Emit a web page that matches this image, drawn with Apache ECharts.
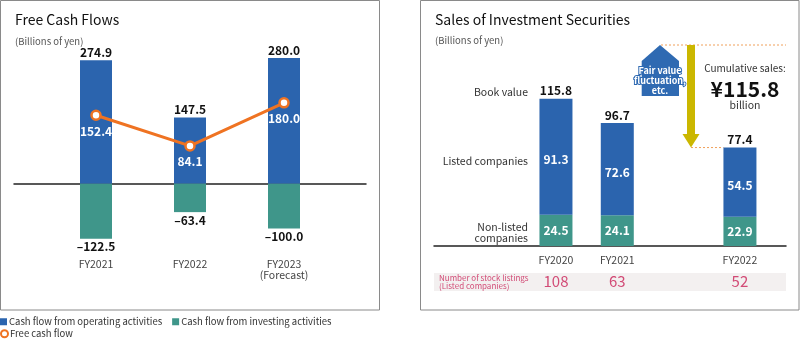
<!DOCTYPE html>
<html><head><meta charset="utf-8">
<script src="https://cdn.jsdelivr.net/npm/echarts@6/dist/echarts.min.js"></script>
<style>html,body{margin:0;padding:0;background:#fff}#c{width:800px;height:339px}</style>
</head><body><div id="c"></div>
<script>
// ---- Left chart data ----
const fcfCategories = ['FY2021', 'FY2022', 'FY2023\n(Forecast)'];
const operatingCF = [274.9, 147.5, 280.0];
const investingCF = [-122.5, -63.4, -100.0];
const freeCF = [152.4, 84.1, 180.0];
// ---- Right chart data ----
const secCategories = ['FY2020', 'FY2021', '', 'FY2022'];
const listedCos = [91.3, 72.6, null, 54.5];
const nonListedCos = [24.5, 24.1, null, 22.9];
const bookValue = [115.8, 96.7, null, 77.4];
const stockListings = [108, 63, null, 52];
const cumulativeSales = 115.8;

const FONT = 'Noto Sans CJK JP';
const BLUE = '#2b64ae', TEAL = '#3f968a', ORANGE = '#ef7322', PINK = '#d24b76';

const chart = echarts.init(document.getElementById('c'), null, {renderer: 'canvas'});
const fmtNeg = v => '\u2013' + Math.abs(v).toFixed(1);

const hiddenVal = (min, max, grid) => ({type: 'value', gridIndex: grid, min: min, max: max, show: false});

chart.setOption({
  animation: false,
  textStyle: {fontFamily: FONT},
  grid: [
    {left: 49, width: 282, top: 49, height: 202},
    {left: 14, width: 352, top: 49, height: 202},
    {left: 525.3, width: 245.3, top: 55.2, height: 190.8},
    {left: 434, width: 352, top: 55.2, height: 190.8}
  ],
  xAxis: [
    {type: 'category', gridIndex: 0, data: fcfCategories, axisLine: {show: false}, axisTick: {show: false},
     axisLabel: {color: '#444', fontSize: 10.5, margin: 8, lineHeight: 11, fontFamily: FONT}},
    {type: 'value', gridIndex: 1, min: 0, max: 1, axisLine: {show: true, onZero: true, lineStyle: {color: '#222', width: 1.5}},
     axisTick: {show: false}, axisLabel: {show: false}, splitLine: {show: false}},
    {type: 'category', gridIndex: 2, data: secCategories, axisLine: {show: false}, axisTick: {show: false},
     axisLabel: {margin: 7, interval: 0, fontFamily: FONT,
       formatter: (v, i) => v ? '{a|' + v + '}\n{b|' + stockListings[i] + '}' : '',
       rich: {a: {color: '#444', fontSize: 10.5, lineHeight: 14, fontFamily: FONT},
              b: {color: PINK, fontSize: 15, lineHeight: 29, fontFamily: FONT}}}},
    {type: 'value', gridIndex: 3, min: 0, max: 1, axisLine: {show: true, onZero: true, lineStyle: {color: '#222', width: 1.5}},
     axisTick: {show: false}, axisLabel: {show: false}, splitLine: {show: false}}
  ],
  yAxis: [hiddenVal(-150, 300, 0), hiddenVal(-150, 300, 1), hiddenVal(0, 150, 2), hiddenVal(0, 150, 3)],
  legend: [
    {left: 0, top: 317, padding: 0, itemWidth: 7, itemHeight: 7, itemGap: 10, icon: 'rect',
     data: ['Cash flow from operating activities', 'Cash flow from investing activities'],
     textStyle: {fontSize: 9.5, color: '#333', fontFamily: FONT, padding: [0, 0, 0, -3]}},
    {left: 0, top: 329, padding: 0, itemWidth: 7, itemHeight: 7,
     data: [{name: 'Free cash flow', icon: 'circle'}],
     textStyle: {fontSize: 9.5, color: '#333', fontFamily: FONT, padding: [0, 0, 0, -3]}}
  ],
  series: [
    {name: 'Cash flow from operating activities', type: 'bar', xAxisIndex: 0, yAxisIndex: 0, stack: 'cf',
     barWidth: 32, data: operatingCF, itemStyle: {color: BLUE},
     label: {show: true, position: 'top', distance: 2, color: '#111', fontWeight: 'bold', fontSize: 12, fontFamily: FONT,
             formatter: p => p.value.toFixed(1)}},
    {name: 'Cash flow from investing activities', type: 'bar', xAxisIndex: 0, yAxisIndex: 0, stack: 'cf',
     barWidth: 32, data: investingCF, itemStyle: {color: TEAL},
     label: {show: true, position: 'bottom', distance: 2, color: '#111', fontWeight: 'bold', fontSize: 12, fontFamily: FONT,
             formatter: p => fmtNeg(p.value)}},
    {name: 'Free cash flow', type: 'line', xAxisIndex: 0, yAxisIndex: 0, data: freeCF, z: 5,
     symbol: 'circle', symbolSize: 9, lineStyle: {color: ORANGE, width: 3},
     itemStyle: {color: '#fff', borderColor: ORANGE, borderWidth: 2.5},
     label: {show: true, position: 'bottom', distance: 4, color: '#fff', fontWeight: 'bold', fontSize: 12, fontFamily: FONT,
             formatter: p => p.value.toFixed(1)}},
    {name: 'Non-listed companies', type: 'bar', xAxisIndex: 2, yAxisIndex: 2, stack: 'sec',
     barWidth: 33, data: nonListedCos, itemStyle: {color: TEAL},
     label: {show: true, position: 'inside', color: '#fff', fontWeight: 'bold', fontSize: 12, fontFamily: FONT,
             formatter: p => p.value.toFixed(1)}},
    {name: 'Listed companies', type: 'bar', xAxisIndex: 2, yAxisIndex: 2, stack: 'sec',
     barWidth: 33, data: listedCos, itemStyle: {color: BLUE},
     label: {show: true, position: 'inside', offset: [0, 3], color: '#fff', fontWeight: 'bold', fontSize: 12, fontFamily: FONT,
             formatter: p => p.value.toFixed(1)}},
    {name: 'Book value', type: 'bar', xAxisIndex: 2, yAxisIndex: 2, stack: 'secTotal', barGap: '-100%',
     barWidth: 33, data: bookValue, itemStyle: {color: 'rgba(0,0,0,0)'}, z: 1,
     label: {show: true, position: 'insideTop', distance: 0, offset: [0, -14], color: '#111', fontWeight: 'bold', fontSize: 12, fontFamily: FONT,
             formatter: p => p.value.toFixed(1)}}
  ]
});

// annotation placement derived from the data scale
const pTop = chart.convertToPixel({gridIndex: 2}, ['FY2022', bookValue[3]]);
const arrowX = 691;
const yHigh = 45;
const yLow = pTop[1];

const txt = (x, y, text, style) => ({type: 'text', x: x, y: y, silent: true,
  style: Object.assign({text: text, font: '11px "' + FONT + '"', fill: '#333', textVerticalAlign: 'middle'}, style)});

chart.setOption({
  graphic: [
    {type: 'rect', shape: {x: 0.5, y: 0.5, width: 379, height: 309.5}, style: {fill: 'none', stroke: '#8a8a8a', lineWidth: 1}, z: -1},
    {type: 'rect', shape: {x: 420.5, y: 0.5, width: 378.5, height: 309.5}, style: {fill: 'none', stroke: '#8a8a8a', lineWidth: 1}, z: -1},
    txt(15, 20, 'Free Cash Flows', {font: '14px "' + FONT + '"', fill: '#111'}),
    txt(15, 41, '(Billions of yen)', {font: '9.5px "' + FONT + '"', fill: '#555'}),
    txt(435, 20, 'Sales of Investment Securities', {font: '14px "' + FONT + '"', fill: '#111'}),
    txt(435, 40, '(Billions of yen)', {font: '9.5px "' + FONT + '"', fill: '#555'}),
    txt(528, 92, 'Book value', {textAlign: 'right', font: '10.5px "' + FONT + '"'}),
    txt(528, 161, 'Listed companies', {textAlign: 'right', font: '10.5px "' + FONT + '"'}),
    txt(528, 227, 'Non-listed', {textAlign: 'right', font: '10.5px "' + FONT + '"'}),
    txt(528, 238, 'companies', {textAlign: 'right', font: '10.5px "' + FONT + '"'}),
    {type: 'rect', shape: {x: 434, y: 273, width: 352, height: 18}, style: {fill: '#f3f0f0'}, z: -2},
    txt(439, 277.5, 'Number of stock listings', {font: '8px "' + FONT + '"', fill: PINK}),
    txt(439, 286, '(Listed companies)', {font: '8px "' + FONT + '"', fill: PINK}),
    // dotted guide lines
    {type: 'line', shape: {x1: 661, y1: yHigh, x2: 786, y2: yHigh}, style: {stroke: '#f0a05a', lineWidth: 1, lineDash: [2, 2]}},
    {type: 'line', shape: {x1: arrowX, y1: yLow, x2: pTop[0] - 16.5, y2: yLow}, style: {stroke: '#f0a05a', lineWidth: 1, lineDash: [2, 2]}},
    // arrow
    {type: 'rect', shape: {x: arrowX - 4, y: yHigh, width: 8, height: yLow - yHigh - 13}, style: {fill: '#cbb700'}},
    {type: 'polygon', shape: {points: [[arrowX - 8.5, yLow - 13.5], [arrowX + 8.5, yLow - 13.5], [arrowX, yLow]]}, style: {fill: '#cbb700'}},
    // house shape
    {type: 'polygon', shape: {points: [[641.7, 61], [660, 45], [679, 61], [679, 96], [641.7, 96]]}, style: {fill: '#2f6ab2'}},
    txt(660, 71, 'Fair value', {textAlign: 'center', font: 'bold 9px "' + FONT + '"', fill: '#fff', stroke: '#2f6ab2', lineWidth: 2}),
    txt(660, 81, 'fluctuation,', {textAlign: 'center', font: 'bold 9px "' + FONT + '"', fill: '#fff', stroke: '#2f6ab2', lineWidth: 2}),
    txt(660, 91, 'etc.', {textAlign: 'center', font: 'bold 9px "' + FONT + '"', fill: '#fff', stroke: '#2f6ab2', lineWidth: 2}),
    txt(745, 68, 'Cumulative sales:', {textAlign: 'center', font: '10px "' + FONT + '"'}),
    txt(745, 89, '\u00a5' + cumulativeSales.toFixed(1), {textAlign: 'center', font: 'bold 21px "' + FONT + '"', fill: '#111'}),
    txt(745, 105, 'billion', {textAlign: 'center', font: '10.5px "' + FONT + '"'})
  ]
});
</script>
</body></html>
